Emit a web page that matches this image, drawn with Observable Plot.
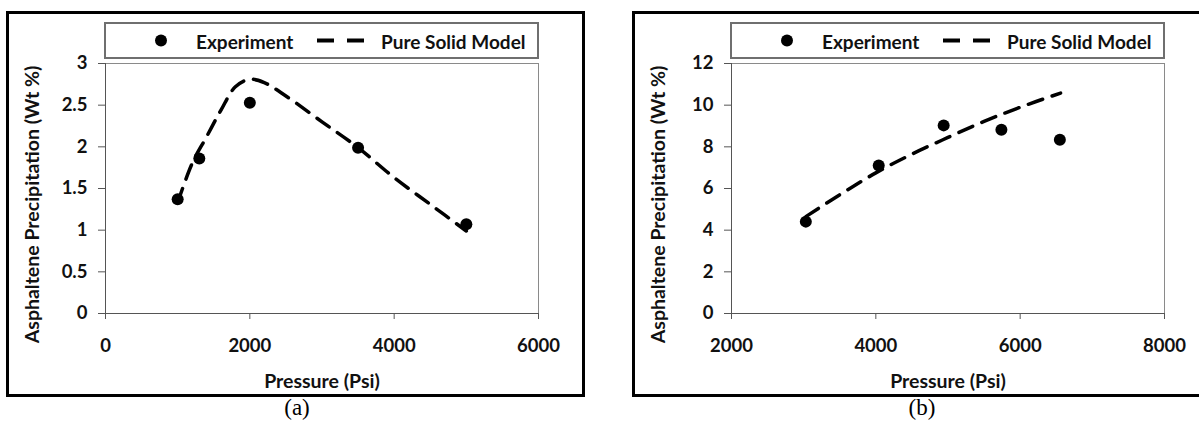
<!DOCTYPE html>
<html><head><meta charset="utf-8">
<script src="https://cdn.jsdelivr.net/npm/d3@7"></script>
<script src="https://cdn.jsdelivr.net/npm/@observablehq/plot@0.6"></script>
<style>
html,body{margin:0;padding:0;background:#fff}
body{width:1199px;height:427px;position:relative;overflow:hidden;font-family:Lato,sans-serif}
.box{position:absolute;border:3px solid #000;box-sizing:border-box}
.legend{position:absolute;border:2px solid #6f6f6f;box-sizing:border-box;background:#fff;height:37px;width:435px;top:22px}
.lg{position:absolute;top:50%;transform:translateY(-50%);font-weight:700;font-size:19px;color:#111;white-space:nowrap;line-height:1}
.sym{position:absolute;top:0}
.cap{position:absolute;top:395px;font-family:"Liberation Serif",serif;font-size:23px;transform:translateX(-50%);color:#000}
.chart{position:absolute;top:0}
</style></head><body>
<div class="box" style="left:6px;top:11px;width:579px;height:386px"></div>
<div class="box" style="left:632px;top:11px;width:620px;height:386px"></div>
<div id="legA" class="legend" style="left:104px"></div>
<div id="legB" class="legend" style="left:730px"></div>
<div id="chartA" class="chart" style="left:0px"></div>
<div id="chartB" class="chart" style="left:600px"></div>
<div class="cap" style="left:297px">(a)</div>
<div class="cap" style="left:922px">(b)</div>
<script>
// ---- Data ----
const seriesNames = ["Experiment", "Pure Solid Model"];
const xTitle = "Pressure (Psi)";
const yTitle = "Asphaltene Precipitation (Wt %)";

// Panel (a)
const expA_P = [1000, 1300, 2000, 3500, 5000];
const expA_W = [1.37, 1.86, 2.53, 1.99, 1.07];
const modA_P = [1000, 1200, 1400, 1600, 1800, 2000, 2200, 2500, 3000, 3500, 4000, 4500, 5000];
const modA_W = [1.33, 1.80, 2.12, 2.44, 2.72, 2.81, 2.77, 2.61, 2.30, 1.99, 1.63, 1.31, 0.99];
const xTicksA = [0, 2000, 4000, 6000];
const yTicksA = [0, 0.5, 1, 1.5, 2, 2.5, 3];

// Panel (b)
const expB_P = [3030, 4040, 4940, 5740, 6550];
const expB_W = [4.41, 7.10, 9.03, 8.82, 8.34];
const modB_P = [3030, 3500, 4000, 4500, 5000, 5500, 6000, 6560];
const modB_W = [4.65, 5.70, 6.75, 7.65, 8.45, 9.22, 9.90, 10.58];
const xTicksB = [2000, 4000, 6000, 8000];
const yTicksB = [0, 2, 4, 6, 8, 10, 12];

function rows(P, W) { return P.map((p, i) => ({p, w: W[i]})); }

function panel({exp, mod, xTicks, yTicks, width, marginLeft, marginRight}) {
  const xd = [xTicks[0], xTicks[xTicks.length - 1]];
  const yd = [yTicks[0], yTicks[yTicks.length - 1]];
  return Plot.plot({
    width, height: 400,
    marginLeft, marginRight, marginTop: 63, marginBottom: 87,
    style: {fontFamily: "Lato, sans-serif", fontSize: "18.5px", fontWeight: 700, color: "#111", background: "transparent", overflow: "visible"},
    x: {domain: xd, label: null},
    y: {domain: yd, label: null},
    marks: [
      Plot.frame({stroke: "#8a8a8a"}),
      Plot.axisX({ticks: xTicks, tickFormat: d => String(d), tickSize: 6, tickPadding: 19, label: null, stroke: "#555"}),
      Plot.axisY({ticks: yTicks, tickFormat: d => String(d), tickSize: 7, tickPadding: 11, label: null, stroke: "#555"}),
      Plot.ruleY([yd[0]], {stroke: "#555"}),
      Plot.ruleX([xd[0]], {stroke: "#555"}),
      Plot.line(mod, {x: "p", y: "w", curve: "catmull-rom", stroke: "#000", strokeWidth: 3.5, strokeDasharray: "15,10"}),
      Plot.dot(exp, {x: "p", y: "w", r: 6, fill: "#000", stroke: null}),
      Plot.text([xTitle], {text: d => d, frameAnchor: "bottom", textAnchor: "middle", lineAnchor: "middle", dy: 68, fontSize: 19.5, fill: "#111"}),
      Plot.text([yTitle], {text: d => d, frameAnchor: "left", textAnchor: "middle", lineAnchor: "middle", rotate: -90, dx: -73, dy: 16, fontSize: 19.5, fill: "#111"})
    ]
  });
}

document.getElementById("chartA").append(panel({
  exp: rows(expA_P, expA_W), mod: rows(modA_P, modA_W),
  xTicks: xTicksA, yTicks: yTicksA, width: 600, marginLeft: 105, marginRight: 62
}));
document.getElementById("chartB").append(panel({
  exp: rows(expB_P, expB_W), mod: rows(modB_P, modB_W),
  xTicks: xTicksB, yTicks: yTicksB, width: 599, marginLeft: 131, marginRight: 35
}));

function legend(id) {
  const el = document.getElementById(id);
  el.innerHTML =
    `<svg class="sym" width="431" height="33" style="left:0;top:0">
       <circle cx="55" cy="16.5" r="6" fill="#000"/>
       <line x1="211" x2="259" y1="16.5" y2="16.5" stroke="#000" stroke-width="4" stroke-dasharray="17,13"/>
     </svg>
     <span class="lg" style="left:90px">${seriesNames[0]}</span>
     <span class="lg" style="left:275px">${seriesNames[1]}</span>`;
}
legend("legA");
legend("legB");
</script>
</body></html>
